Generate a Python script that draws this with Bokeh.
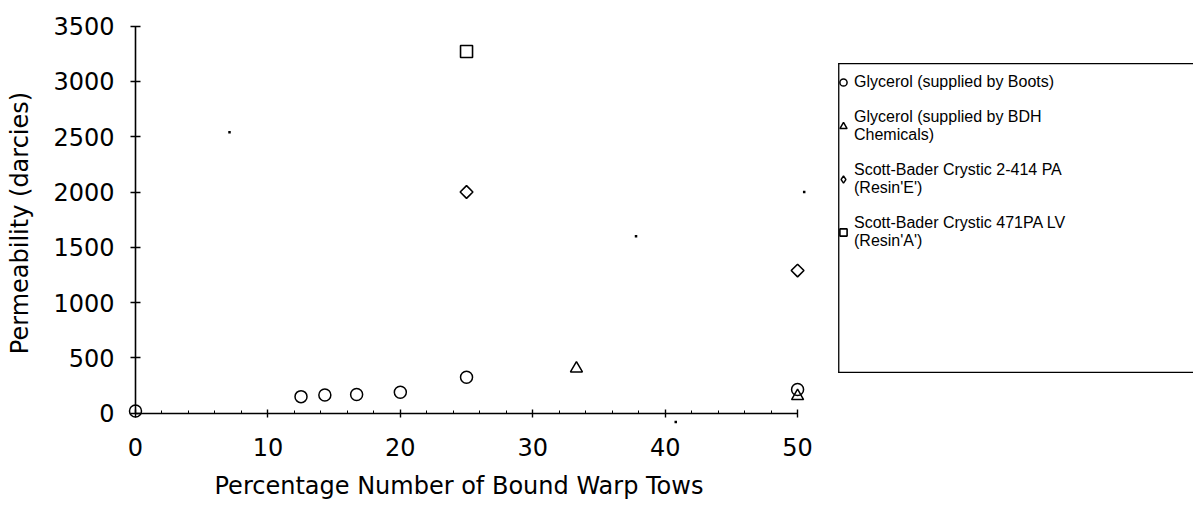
import math
from bokeh.plotting import figure
from bokeh.models import (Range1d, LinearAxis, FixedTicker, Legend, LegendItem,
                          Title, BoxAnnotation)
from bokeh.embed import file_html
from bokeh.resources import INLINE

# ---- data ----
boots_x = [0, 12.5, 14.3, 16.7, 20, 25, 50]
boots_y = [20, 150, 165, 170, 190, 325, 215]
bdh_x = [33.3, 50]
bdh_y = [405, 155]
resin_e_x = [25, 50]
resin_e_y = [2000, 1290]
resin_a_x = [25]
resin_a_y = [3270]
# scanning specks visible in the reference
speck_x = [7.1, 37.8, 50.5, 40.8]
speck_y = [2540, 1600, 2000, -80]

x_ticks = [0, 10, 20, 30, 40, 50]
x_minor = list(range(0, 51, 2))
y_ticks = [0, 500, 1000, 1500, 2000, 2500, 3000, 3500]

x_title = "Percentage Number of Bound Warp Tows"
y_title = "Permeability (darcies)"
labels = [
    "Glycerol (supplied by Boots)",
    "Glycerol (supplied by BDH\nChemicals)",
    "Scott-Bader Crystic 2-414 PA\n(Resin'E')",
    "Scott-Bader Crystic 471PA LV\n(Resin'A')",
]

FONT = "DejaVu Sans"

p = figure(width=1193, height=512, output_backend="svg", toolbar_location=None,
           x_range=Range1d(-1.51, 79.9), y_range=Range1d(-120, 3560),
           x_axis_location=None, y_axis_location=None,
           min_border_left=115, min_border_right=0, min_border_top=19, min_border_bottom=86)
p.grid.visible = False
p.outline_line_color = None
p.background_fill_color = "white"
p.border_fill_color = "white"

# --- axes that only carry the tick labels (at the frame edges) ---
xlab = LinearAxis(ticker=FixedTicker(ticks=x_ticks, minor_ticks=[]))
ylab = LinearAxis(ticker=FixedTicker(ticks=y_ticks, minor_ticks=[]))
for ax in (xlab, ylab):
    ax.axis_line_color = None
    ax.major_tick_line_color = None
    ax.minor_tick_line_color = None
    ax.major_tick_in = 0
    ax.major_tick_out = 0
    ax.minor_tick_in = 0
    ax.minor_tick_out = 0
    ax.major_label_text_font = FONT
    ax.major_label_text_font_size = "24px"
    ax.major_label_text_color = "black"
    ax.axis_label_text_font = FONT
    ax.axis_label_text_font_style = "normal"
    ax.axis_label_text_color = "black"
    ax.axis_label_text_font_size = "24px"
xlab.major_label_standoff = 11
ylab.axis_label = y_title
ylab.major_label_standoff = 1
ylab.axis_label_standoff = 16
p.add_layout(xlab, "below")
p.add_layout(ylab, "left")

# x-axis title, placed under the drawn axis (0..50)
p.add_layout(Title(text=x_title, align="left", offset=99, standoff=22,
                   text_font=FONT, text_font_size="24px", text_font_style="normal",
                   text_color="black"), "below")

# --- axes drawn through the data origin (line + ticks only) ---
xline = LinearAxis(fixed_location=0, bounds=(0, 50),
                   ticker=FixedTicker(ticks=x_ticks, minor_ticks=x_minor))
yline = LinearAxis(fixed_location=0, bounds=(0, 3500),
                   ticker=FixedTicker(ticks=y_ticks, minor_ticks=[]))
for ax in (xline, yline):
    ax.axis_line_color = "black"
    ax.axis_line_width = 1.6
    ax.major_tick_line_color = "black"
    ax.major_tick_line_width = 1.4
    ax.minor_tick_line_color = "black"
    ax.major_label_text_font_size = "0px"
    ax.major_label_text_alpha = 0
    ax.major_label_standoff = 0
xline.major_tick_in = 4
xline.major_tick_out = 4
xline.minor_tick_in = 0
xline.minor_tick_out = 3
yline.major_tick_in = 5
yline.major_tick_out = 5
yline.minor_tick_line_color = None
p.add_layout(xline, "above")
p.add_layout(yline, "left")

r_boots = p.scatter(boots_x, boots_y, marker="circle", size=12, fill_color=None,
                    line_color="black", line_width=1.5)
r_bdh = p.scatter(bdh_x, bdh_y, marker="triangle", size=12, fill_color=None,
                  line_color="black", line_width=1.5)
r_e = p.scatter(resin_e_x, resin_e_y, marker="square", angle=math.pi / 4, size=9,
                fill_color=None, line_color="black", line_width=1.6)
r_a = p.scatter(resin_a_x, resin_a_y, marker="square", size=12, fill_color=None,
                line_color="black", line_width=1.6)
# same data, hidden in the plot, only to give the legend an upright diamond
r_e_leg = p.scatter(resin_e_x, resin_e_y, marker="diamond", size=12, fill_color=None,
                    line_color="black", line_width=1.4, visible=False)
p.scatter(speck_x, speck_y, marker="square", size=2.5, fill_color="black", line_color=None)

# legend frame: left, top and bottom edges (the right edge runs off the page)
EDGE = dict(fill_color="black", fill_alpha=1, line_color=None,
            left_units="canvas", right_units="canvas",
            top_units="canvas", bottom_units="canvas")
p.add_layout(BoxAnnotation(left=838, right=1300, top=62.5, bottom=63.8, **EDGE))
p.add_layout(BoxAnnotation(left=838, right=1300, top=371.2, bottom=372.5, **EDGE))
p.add_layout(BoxAnnotation(left=837.6, right=838.9, top=62.5, bottom=372.5, **EDGE))

legend = Legend(items=[
    LegendItem(label=labels[0], renderers=[r_boots]),
    LegendItem(label=labels[1], renderers=[r_bdh]),
    LegendItem(label=labels[2], renderers=[r_e_leg]),
    LegendItem(label=labels[3], renderers=[r_a]),
], location=(719, 176))
legend.border_line_color = None
legend.background_fill_color = None
legend.inactive_fill_alpha = 0
legend.label_text_font = "Liberation Sans"
legend.label_text_font_size = "16px"
legend.label_text_color = "black"
legend.glyph_width = 18
legend.glyph_height = 18
legend.label_standoff = 2
legend.padding = 0
legend.spacing = 17
legend.margin = 0
p.add_layout(legend)

open("out.html", "w").write(file_html(p, INLINE))
